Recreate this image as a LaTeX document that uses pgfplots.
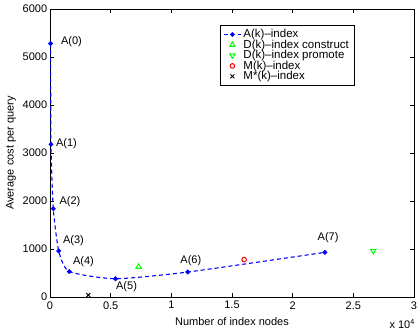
\documentclass[border=0pt,11pt]{standalone}
\usepackage{fontspec}
\setmainfont{Liberation Sans}
\usepackage{pgfplots}
\pgfplotsset{compat=1.18}
\begin{document}
\begin{tikzpicture}[font=\fontsize{11}{13}\selectfont]
\begin{axis}[
  scale only axis,
  width=364pt, height=288pt,
  xmin=0, xmax=30000, ymin=0, ymax=6000,
  xtick={0,5000,10000,15000,20000,25000,30000},
  xticklabels={0,0.5,1,1.5,2,2.5,3},
  scaled x ticks=false,
  ytick={0,1000,2000,3000,4000,5000,6000},
  scaled y ticks=false,
  /pgf/number format/assume math mode=true,
  /pgf/number format/1000 sep={},
  tick align=inside,
  major tick length=4pt,
  axis line style={line width=0.9pt},
  every tick/.style={black, line width=0.6pt},
  tick label style={font=\fontsize{11}{13}\selectfont},
  yticklabel style={xshift=1pt},
  xticklabel style={yshift=-0.5pt},
  xlabel={Number of index nodes},
  ylabel={Average cost per query},
  xlabel style={at={(axis description cs:0.5,-0.087)}, anchor=center},
  ylabel style={at={(axis description cs:-0.107,0.5)}, anchor=center},
  clip=false,
  legend style={at={(axis description cs:0.431,0.951)}, anchor=north west, xshift=13pt, yshift=-2pt,
    draw=black, line width=0.8pt,
    font=\fontsize{11.5}{13}\selectfont, row sep=-3.5pt,
    cells={anchor=west}},
  legend cell align=left,
]
\addplot[blue, dashed, line width=1.1pt, dash pattern=on 4pt off 3pt, smooth, tension=0.35,
  mark=*, mark size=1.8pt, mark options={solid}]
  coordinates {(50,5280) (80,3180) (270,1840) (720,960) (1590,530) (5400,380) (11350,520) (22650,930)};
\addlegendentry{A(k)--index}
\addplot[only marks, green, mark=triangle, mark size=3pt, line width=1pt]
  coordinates {(7300,630)};
\addlegendentry{D(k)--index construct}
\addplot[only marks, green, mark=triangle, mark options={rotate=180}, mark size=3pt, line width=1pt]
  coordinates {(26650,960)};
\addlegendentry{D(k)--index promote}
\addplot[only marks, red, mark=o, mark size=2.3pt, line width=1pt]
  coordinates {(16000,780)};
\addlegendentry{M(k)--index}
\addplot[only marks, black, mark=x, mark size=2.8pt, line width=1pt]
  coordinates {(3160,40)};
\addlegendentry{M*(k)--index}
\node at (axis cs:1772,5312) {A(0)};
\node at (axis cs:1360,3187) {A(1)};
\node at (axis cs:1649,1979) {A(2)};
\node at (axis cs:1937,1167) {A(3)};
\node at (axis cs:2762,735) {A(4)};
\node at (axis cs:6307,208) {A(5)};
\node at (axis cs:11608,756) {A(6)};
\node at (axis cs:22918,1229) {A(7)};
\node[anchor=base east] at (rel axis cs:1.013,-0.111) {x 10$^{\mathsf{4}}$};
\end{axis}
\pgfresetboundingbox
\path (current axis.south west) ++(-50pt,-38pt) rectangle ++(420pt,335pt);
\end{tikzpicture}
\end{document}
